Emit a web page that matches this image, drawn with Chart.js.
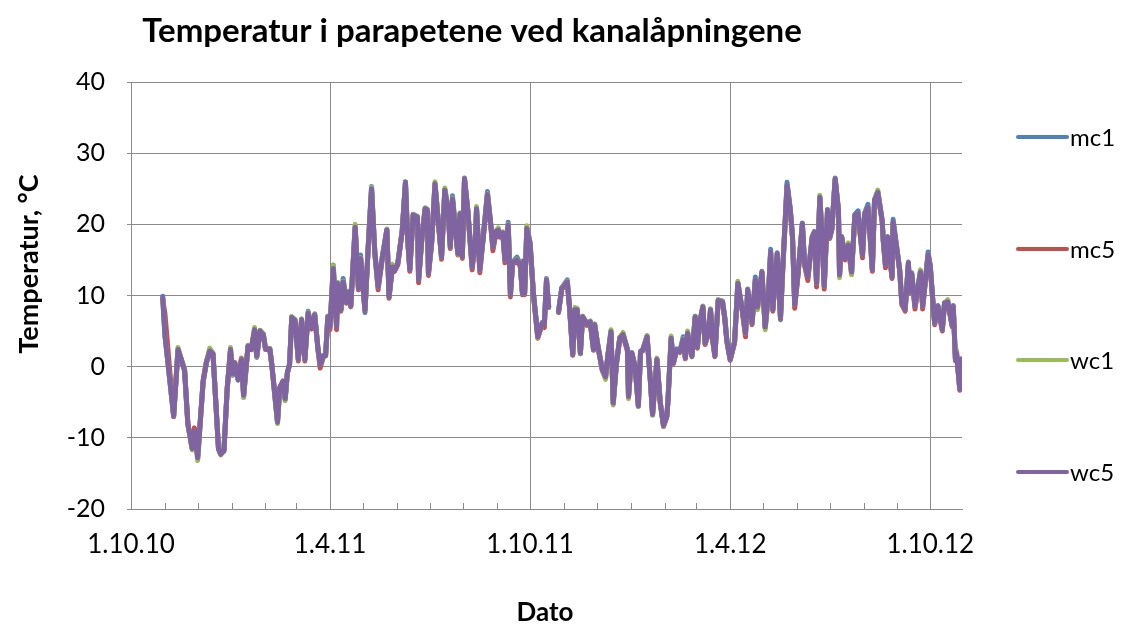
<!DOCTYPE html>
<html><head><meta charset="utf-8">
<script src="https://cdn.jsdelivr.net/npm/chart.js@4/dist/chart.umd.min.js"></script>
<style>html,body{margin:0;padding:0;background:#fff}#wrap{width:1125px;height:628px;position:relative}</style>
</head><body><div id="wrap"><canvas id="c" width="1125" height="628"></canvas></div>
<script>
// Days after 1.10.2010 for every reading
const dayOffsets = [
29,31,39,43,46,49,52,56,58,61,
66,69,72,75,80,82,85,88,91,93,
95,98,101,103,107,110,113,115,118,121,
123,127,129,131,134,136,139,141,143,145,
147,150,153,156,159,162,165,168,171,173,
176,178,180,182,185,187,188,189,192,194,
197,199,201,205,208,210,214,217,220,223,
226,230,234,236,239,241,244,248,251,253,
255,258,262,263,266,269,271,272,275,278,
281,284,287,290,292,294,298,299,301,303,
305,308,312,315,316,319,322,326,329,331,
334,336,337,340,342,345,347,349,353,356,
358,359,360,362,365,368,372,376,378,380,
382,386,391,394,399,401,404,406,408,411,
413,417,420,423,424,427,431,434,436,439,
441,444,447,450,454,455,458,461,464,466,
468,472,475,477,481,484,487,490,491,494,
496,499,502,505,507,509,513,516,518,520,
523,525,528,530,532,534,537,541,543,545,
548,552,555,559,562,564,568,571,573,577,
580,583,585,587,591,594,596,600,603,605,
607,610,614,616,619,623,625,627,630,632,
634,637,639,641,644,647,648,650,653,656,
659,662,665,669,671,674,676,678,680,683,
687,688,690,692,696,697,701,703,705,708,
711,712,714,717,720,722,724,729,731,733,
735,738,742,744,747,751,752,754,755,758,
759];

const mc1 = [
9.9,4.6,-7.0,2.5,1.0,-0.4,-8.0,-11.6,-9.2,-12.7,
-2.1,0.5,2.3,1.8,-11.4,-12.2,-11.9,-3.2,2.3,-1.2,
0.4,-1.9,0.9,-4.3,2.8,2.4,5.1,1.3,5.0,4.6,
2.6,2.4,-0.1,-3.0,-7.7,-3.1,-2.2,-4.6,-0.9,0.4,
7.0,6.6,1.1,6.7,1.1,7.8,5.6,7.4,2.6,0.5,
1.6,1.7,7.1,5.7,14.3,8.5,5.8,11.8,8.1,12.4,
9.1,10.6,8.6,19.7,11.1,15.7,7.6,17.1,25.3,16.1,
11.4,15.6,19.3,9.9,14.1,13.6,14.6,19.1,26.0,18.1,
13.8,21.4,21.1,12.4,18.1,22.3,22.1,13.3,17.6,25.7,
20.6,15.5,24.9,22.1,17.0,24.0,17.4,16.0,21.6,15.5,
26.5,22.1,14.2,18.1,22.3,13.8,18.1,24.6,20.1,17.0,
19.1,19.3,18.4,18.9,15.2,20.3,10.4,14.7,15.4,14.4,
10.5,14.9,10.5,19.6,17.4,10.5,4.3,6.2,6.1,12.4,
8.5,null,7.8,11.1,12.2,8.6,1.8,8.1,8.1,2.0,
7.1,6.1,6.4,2.5,6.0,3.0,-0.3,-1.3,1.5,5.0,
-5.0,0.6,4.1,4.6,2.5,-4.1,2.0,0.1,-5.4,2.2,
2.4,4.3,-1.9,-6.6,1.1,-4.9,-8.2,-6.9,-4.9,4.1,
0.6,2.5,2.2,4.2,1.3,4.8,1.6,7.1,2.9,6.2,
8.5,3.4,4.8,8.1,3.9,1.6,9.4,9.2,7.0,3.7,
1.1,3.6,11.8,8.1,4.8,10.9,6.2,12.6,8.5,13.4,
5.7,10.4,16.5,8.1,16.0,6.6,13.7,25.9,22.1,18.3,
8.8,13.1,20.2,14.6,12.7,18.3,19.0,11.8,23.9,18.3,
11.4,22.1,18.3,19.5,26.5,22.1,13.0,18.3,15.3,17.2,
13.4,21.4,21.9,15.8,21.6,22.8,18.3,13.7,23.5,24.6,
20.6,17.8,14.4,18.3,12.7,20.7,16.0,13.7,9.0,8.1,
14.7,10.7,13.2,8.6,11.5,13.4,8.6,16.1,14.2,10.0,
6.2,8.6,5.3,9.0,9.2,5.9,8.6,1.1,2.0,-3.1,
1.1];

const mc5 = [
9.5,7.5,-7.0,2.2,0.9,-0.6,-8.1,-11.4,-8.6,-12.6,
-1.9,0.8,2.1,1.7,-11.6,-12.2,-11.7,-2.9,2.2,-1.1,
0.6,-1.7,1.2,-3.9,2.8,2.4,5.0,1.4,5.1,4.4,
2.4,2.4,-0.1,-3.1,-7.7,-2.9,-2.1,-4.4,-0.9,0.2,
6.8,6.4,0.8,6.5,0.8,7.3,5.3,7.2,2.3,-0.2,
1.4,1.5,6.8,5.2,13.5,8.2,5.2,11.5,7.8,11.6,
8.9,10.4,8.4,19.4,10.8,15.0,7.9,16.8,24.8,15.8,
10.8,15.3,19.1,9.6,13.9,13.4,14.3,18.9,25.8,17.8,
13.4,21.2,20.9,11.8,17.8,22.0,21.9,12.8,17.3,25.5,
20.3,15.1,24.7,21.8,16.6,23.4,17.1,15.7,21.4,15.2,
26.3,21.8,13.6,17.8,22.0,13.2,17.8,24.0,19.8,16.3,
18.9,19.0,18.2,18.6,14.6,19.7,9.8,14.4,14.8,14.1,
10.1,14.6,10.1,19.2,17.1,10.1,4.0,5.9,5.5,12.0,
8.3,null,7.6,10.9,11.7,8.3,1.6,7.8,7.9,1.8,
6.8,5.8,6.1,2.3,5.8,2.7,-0.5,-1.5,1.3,4.7,
-5.2,0.4,3.8,4.3,2.2,-4.3,1.8,-0.1,-5.6,2.0,
2.2,4.0,-2.1,-6.8,0.9,-5.1,-8.4,-7.1,-5.1,3.8,
0.4,2.3,2.0,3.6,1.1,4.5,1.4,6.8,2.6,5.9,
8.2,3.1,4.5,7.8,3.6,1.4,9.1,8.9,6.7,3.4,
0.9,3.3,11.5,7.8,4.2,10.6,5.9,12.0,8.2,13.1,
5.4,10.1,15.9,7.8,15.7,6.8,13.4,25.3,21.8,18.0,
8.2,12.8,19.9,14.2,12.1,18.0,18.7,11.2,23.6,18.0,
10.9,21.8,18.0,19.2,26.2,21.8,12.7,18.0,15.0,16.9,
13.1,21.1,21.3,15.3,21.3,22.2,18.0,13.4,23.2,24.3,
20.3,17.5,13.9,18.0,12.4,20.1,15.7,13.4,8.7,7.8,
14.4,10.4,12.9,8.1,11.2,13.1,8.1,15.5,13.9,9.7,
5.9,8.1,5.0,8.7,8.9,5.6,8.3,0.8,1.7,-3.3,
0.9];

const wc1 = [
9.6,4.4,-6.9,2.7,1.1,-0.4,-8.2,-11.7,-9.4,-13.2,
-2.2,0.7,2.6,1.9,-11.6,-12.4,-11.8,-3.1,2.7,-1.1,
0.5,-1.8,1.1,-4.3,3.0,2.6,5.5,1.4,5.1,4.6,
2.6,2.6,0.1,-3.4,-8.0,-3.3,-2.3,-4.8,-0.9,0.3,
7.0,6.6,1.0,6.7,1.0,7.6,5.6,7.4,2.5,0.3,
1.5,1.6,7.1,5.6,14.2,8.3,5.6,11.8,8.0,12.0,
9.0,10.6,8.5,20.0,11.0,15.3,8.0,17.1,25.2,16.0,
11.2,15.6,19.3,9.8,14.4,13.6,14.6,19.1,25.9,18.0,
13.6,21.4,21.1,12.2,18.1,22.3,22.1,13.1,17.5,26.0,
20.5,15.4,25.1,22.1,16.8,23.7,17.3,15.8,21.6,15.4,
26.4,22.0,14.0,18.1,22.5,13.6,18.1,24.3,20.0,16.8,
19.1,19.5,18.4,18.9,15.0,20.0,10.1,14.6,15.1,14.3,
10.3,14.9,10.3,19.8,17.4,10.3,4.1,6.1,6.0,12.3,
8.4,null,7.7,11.1,12.0,8.5,1.7,8.3,8.2,1.8,
7.1,6.0,6.4,2.4,6.0,2.9,-0.5,-1.8,1.4,5.2,
-5.4,0.5,4.1,4.8,2.4,-4.5,1.9,0.0,-5.6,2.1,
2.3,4.4,-2.0,-6.8,1.2,-5.0,-8.4,-7.0,-5.0,4.3,
0.5,2.4,2.1,3.9,1.2,5.0,1.5,7.1,2.8,6.1,
8.5,3.3,4.8,8.1,3.8,1.5,9.4,9.2,6.9,3.6,
1.0,3.5,12.0,8.0,4.7,10.8,6.1,12.2,8.0,13.3,
5.2,10.3,16.1,8.0,15.9,7.0,13.6,25.5,22.0,18.2,
8.7,13.0,20.1,14.5,12.6,18.2,18.9,11.7,24.1,18.2,
11.3,22.0,18.2,19.4,26.4,22.0,12.5,18.2,15.3,17.4,
12.9,21.3,21.5,15.7,21.5,22.4,18.2,13.6,23.4,24.8,
20.5,17.7,14.3,18.2,12.6,20.3,15.9,13.6,8.9,8.0,
14.6,10.6,13.1,8.5,11.4,13.6,8.5,15.7,14.1,9.9,
6.1,8.5,5.2,8.9,9.4,5.8,8.5,1.0,2.3,-3.2,
1.0];

const wc5 = [
9.7,4.5,-6.9,2.4,1.0,-0.5,-8.0,-11.5,-9.0,-12.8,
-2.0,0.6,2.2,1.8,-11.5,-12.3,-11.8,-3.0,2.4,-1.0,
0.5,-1.8,1.0,-4.0,2.9,2.5,5.2,1.5,5.0,4.5,
2.5,2.5,0.0,-3.2,-7.8,-3.0,-2.0,-4.5,-0.8,0.3,
6.9,6.5,1.0,6.6,1.0,7.5,5.5,7.3,2.5,0.3,
1.5,1.6,7.0,5.6,13.8,8.4,5.6,11.7,8.0,11.9,
9.0,10.5,8.5,19.6,11.0,15.2,8.0,17.0,25.0,16.0,
11.2,15.5,19.2,9.8,14.0,13.5,14.5,19.0,25.9,18.0,
13.6,21.3,21.0,12.2,18.0,22.2,22.0,13.1,17.5,25.7,
20.5,15.4,24.8,22.0,16.8,23.6,17.3,15.9,21.5,15.4,
26.4,22.0,14.0,18.0,22.2,13.6,18.0,24.2,20.0,16.8,
19.0,19.2,18.3,18.8,15.0,19.9,10.1,14.6,15.0,14.3,
10.3,14.8,10.3,19.4,17.3,10.3,4.2,6.1,5.9,12.2,
8.4,null,7.7,11.0,11.9,8.5,1.7,8.0,8.0,1.9,
7.0,6.0,6.3,2.4,5.9,2.9,-0.4,-1.4,1.4,4.9,
-5.1,0.5,4.0,4.5,2.4,-4.2,1.9,0.0,-5.5,2.1,
2.3,4.2,-2.0,-6.7,1.0,-5.0,-8.3,-7.0,-5.0,4.0,
0.5,2.4,2.1,3.8,1.2,4.7,1.5,7.0,2.8,6.1,
8.4,3.3,4.7,8.0,3.8,1.5,9.3,9.1,6.9,3.6,
1.0,3.5,11.7,8.0,4.7,10.8,6.1,12.2,8.4,13.3,
5.6,10.3,16.1,8.0,15.9,7.0,13.6,25.5,22.0,18.2,
8.7,13.0,20.1,14.5,12.6,18.2,18.9,11.7,23.8,18.2,
11.3,22.0,18.2,19.4,26.4,22.0,12.9,18.2,15.2,17.1,
13.3,21.3,21.5,15.7,21.5,22.4,18.2,13.6,23.4,24.5,
20.5,17.7,14.3,18.2,12.6,20.3,15.9,13.6,8.9,8.0,
14.6,10.6,13.1,8.5,11.4,13.3,8.5,15.7,14.1,9.9,
6.1,8.5,5.2,8.9,9.1,5.8,8.5,1.0,1.9,-3.2,
1.0];

const seriesNames = ['mc1', 'mc5', 'wc1', 'wc5'];
const seriesValues = [mc1, mc5, wc1, wc5];
const seriesColors = ['#4F81BD', '#C0504D', '#9BBB59', '#8064A2'];

const chartTitle = 'Temperatur i parapetene ved kanalåpningene';
const yAxisTitle = 'Temperatur, °C';
const xAxisTitle = 'Dato';
const yTicks = [-20, -10, 0, 10, 20, 30, 40];
const xLabelMonths = [4, 10];           // months that carry a date label
const axisStart = [2010, 9, 1];         // 1.10.10 (UTC month index)
const axisEnd = [2012, 9, 30];          // last day on the axis

// ---------- helpers ----------
const DAY = 864e5;
const START = Date.UTC(...axisStart);
const END_DAY = (Date.UTC(...axisEnd) - START) / DAY;
const monthTicks = [];
for (let y = 2010, m = 9; ; ) {
  const d = (Date.UTC(y, m, 1) - START) / DAY;
  if (d > END_DAY) break;
  monthTicks.push(d);
  m++; if (m > 11) { m = 0; y++; }
}
function dateOf(v) { return new Date(START + Math.round(v) * DAY); }
function isMajor(v) {
  if (v === undefined || v === null) return false;
  return xLabelMonths.includes(dateOf(v).getUTCMonth() + 1);
}
function fmt(v) {
  const d = dateOf(v);
  return d.getUTCDate() + '.' + (d.getUTCMonth() + 1) + '.' + String(d.getUTCFullYear() % 100).padStart(2, '0');
}

const GRID = '#8a8a8a';
const FONT = 'Lato';
Chart.defaults.font.family = FONT;
Chart.defaults.color = '#000';

const datasets = seriesNames.map((name, i) => ({
  label: name,
  data: dayOffsets.map((d, k) => ({ x: d, y: seriesValues[i][k] })),
  borderColor: seriesColors[i],
  backgroundColor: seriesColors[i],
  borderWidth: 5,
  pointRadius: 0,
  tension: 0,
  spanGaps: false,
  borderJoinStyle: 'round',
  borderCapStyle: 'round',
  order: seriesNames.length - i
}));

const decor = {
  id: 'decor',
  afterDraw(chart) {
    const ctx = chart.ctx, a = chart.chartArea, xs = chart.scales.x;
    ctx.save();
    // monthly minor tick marks inside the plot
    ctx.strokeStyle = GRID; ctx.lineWidth = 1;
    xs.ticks.forEach(t => {
      const px = Math.round(xs.getPixelForValue(t.value)) + 0.5;
      ctx.beginPath(); ctx.moveTo(px, a.bottom); ctx.lineTo(px, a.bottom - 6); ctx.stroke();
    });
    // titles
    ctx.fillStyle = '#000';
    ctx.textAlign = 'center'; ctx.textBaseline = 'middle';
    ctx.font = 'bold 33px ' + FONT;
    ctx.fillText(chartTitle, 472, 31);
    ctx.font = 'bold 26px ' + FONT;
    ctx.fillText(xAxisTitle, 545, 613);
    ctx.save();
    ctx.font = 'bold 27px ' + FONT;
    ctx.translate(29, 264); ctx.rotate(-Math.PI / 2);
    ctx.fillText(yAxisTitle, 0, 0);
    ctx.restore();
    // legend
    ctx.font = '24px ' + FONT;
    ctx.textAlign = 'left';
    const lx0 = 1018, lx1 = 1067, ly0 = 137, ldy = 111.7;
    chart.data.datasets.forEach((ds, i) => {
      const y = Math.round(ly0 + i * ldy);
      ctx.strokeStyle = ds.borderColor; ctx.lineWidth = 4; ctx.lineCap = 'round';
      ctx.beginPath(); ctx.moveTo(lx0, y); ctx.lineTo(lx1, y); ctx.stroke();
      ctx.fillStyle = '#000';
      ctx.fillText(ds.label, lx1 + 3, y + 1);
    });
    ctx.restore();
  }
};

new Chart(document.getElementById('c'), {
  type: 'line',
  data: { datasets },
  options: {
    responsive: false,
    devicePixelRatio: 1,
    animation: false,
    layout: { padding: { left: 0, top: 82, right: 163, bottom: 0 } },
    plugins: { legend: { display: false }, tooltip: { enabled: false }, title: { display: false } },
    scales: {
      x: {
        type: 'linear', min: 0, max: END_DAY,
        afterBuildTicks(scale) { scale.ticks = monthTicks.map(v => ({ value: v })); },
        afterFit(scale) { scale.height = 628 - 509; },
        grid: { color: c => isMajor(c.tick ? c.tick.value : undefined) ? GRID : 'rgba(0,0,0,0)', drawTicks: false, lineWidth: 1 },
        border: { color: GRID, width: 1 },
        ticks: {
          autoSkip: false, maxRotation: 0, minRotation: 0, padding: 20,
          font: { size: 26 }, color: '#000',
          callback: v => isMajor(v) ? fmt(v) : ''
        }
      },
      y: {
        min: yTicks[0], max: yTicks[yTicks.length - 1],
        afterBuildTicks(scale) { scale.ticks = yTicks.map(v => ({ value: v })); },
        afterFit(scale) { scale.width = 131; },
        grid: { color: GRID, lineWidth: 1, tickLength: 4 },
        border: { color: GRID, width: 1 },
        ticks: { padding: 22, font: { size: 25 }, color: '#000' }
      }
    }
  },
  plugins: [decor]
});
</script>
</body></html>
